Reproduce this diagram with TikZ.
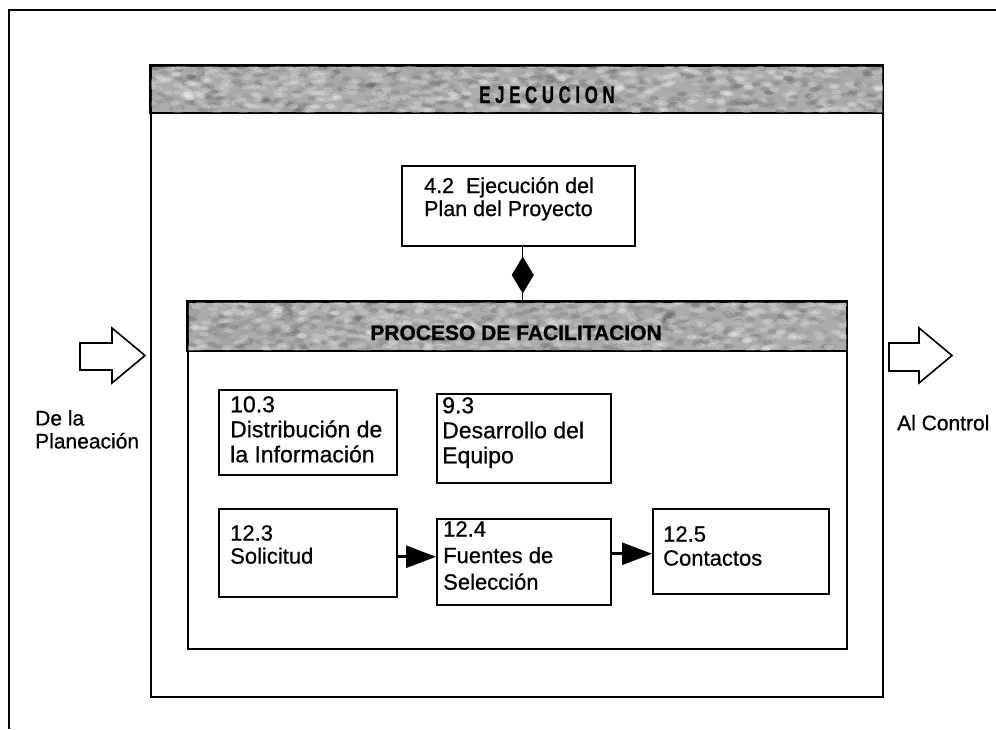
\documentclass[tikz,border=0pt]{standalone}
\usepackage{fontspec}
\usepackage{graphicx}
\setmainfont{Liberation Sans}
\newfontfamily\bodyfont{Liberation Sans}[FakeBold=0.7]
\newfontfamily\headfont{Liberation Sans Bold}[FakeBold=1.2]
\usetikzlibrary{arrows.meta,calc}
\definecolor{bandgray}{RGB}{172,172,172}
\begin{document}
\begin{tikzpicture}[x=1pt,y=-1pt,
  rule/.style={line width=1.6pt},
  stagebox/.style={draw, line width=1.6pt, anchor=north west, inner sep=0pt},
  band/.style={draw, line width=1.6pt, fill=bandgray, anchor=north west, inner sep=0pt},
  procbox/.style={draw, line width=1.5pt, anchor=north west, inner sep=0pt},
  % text blocks: the top of each block lies 18pt above its first baseline
  body/.style={anchor=north west, inner sep=0pt, align=left,
    execute at begin node={\rule{0pt}{18pt}}},
  txtA/.style={body, font=\bodyfont\fontsize{23}{25}\selectfont},
  txtB/.style={body, font=\bodyfont\fontsize{22}{24}\selectfont},
  bandtitle/.style={anchor=base, inner sep=0pt, font=\headfont\fontsize{21}{21}\selectfont},
  flow/.style={line width=2.8pt, -{Triangle[length=30pt,width=22pt]}},
  bigarrow/.style={draw, line width=1.6pt, line join=miter, fill=white}
]
\useasboundingbox (0,0) rectangle (996,729);

% page frame, open at the right and bottom
\draw[rule] (9,729) -- (9,10) -- (996,10);

% ---- execution stage ----
\node[stagebox, minimum width=732, minimum height=631] (ejec) at (150,65) {};
\node[band, minimum width=732, minimum height=47] (ejecband) at (150,65) {};
\begin{scope}
  \clip (ejecband.north west) rectangle (ejecband.south east);
  \pgfmathsetseed{42}
  \foreach \k in {1,...,700}{
    \pgfmathsetmacro{\sx}{rnd*740}
    \pgfmathsetmacro{\sy}{rnd*47}
    \pgfmathtruncatemacro{\sg}{35+40*rnd}
    \fill[black!\sg, opacity=0.22] ($(ejecband.north west)+(\sx,\sy)$) circle[x radius=5pt, y radius=2.5pt];
  }
  \foreach \k in {1,...,500}{
    \pgfmathsetmacro{\sx}{rnd*740}
    \pgfmathsetmacro{\sy}{rnd*47}
    \fill[white, opacity=0.2] ($(ejecband.north west)+(\sx,\sy)$) circle[x radius=5pt, y radius=2.5pt];
  }
\end{scope}
\draw[line width=1.6pt] (ejecband.north west) rectangle (ejecband.south east);
\node[bandtitle, font=\headfont\fontsize{24}{24}\selectfont] (ejectitle) at (547,103) {\scalebox{0.7}[1]{E J E C U C I O N}};

% project plan execution
\node[procbox, minimum width=233, minimum height=80] (b42) at (401,165) {};
\node[body, font=\bodyfont\fontsize{21.5}{23}\selectfont] (t42) at (424,177) {4.2\ \ Ejecución del\\Plan del Proyecto};

% ---- facilitating processes ----
\node[stagebox, minimum width=659, minimum height=347] (proc) at (187,301) {};
\node[band, minimum width=659, minimum height=49] (procband) at (187,301) {};
\begin{scope}
  \clip (procband.north west) rectangle (procband.south east);
  \pgfmathsetseed{7}
  \foreach \k in {1,...,640}{
    \pgfmathsetmacro{\sx}{rnd*665}
    \pgfmathsetmacro{\sy}{rnd*49}
    \pgfmathtruncatemacro{\sg}{35+40*rnd}
    \fill[black!\sg, opacity=0.22] ($(procband.north west)+(\sx,\sy)$) circle[x radius=5pt, y radius=2.5pt];
  }
  \foreach \k in {1,...,460}{
    \pgfmathsetmacro{\sx}{rnd*665}
    \pgfmathsetmacro{\sy}{rnd*49}
    \fill[white, opacity=0.2] ($(procband.north west)+(\sx,\sy)$) circle[x radius=5pt, y radius=2.5pt];
  }
\end{scope}
\draw[line width=1.6pt] (procband.north west) rectangle (procband.south east);
\node[bandtitle] (proctitle) at (516,340) {PROCESO DE FACILITACION};

% two-way link between plan execution and facilitating processes
\coordinate (dtop) at ($(b42.south)+(4.5,0)$);
\draw[line width=1.4pt] (dtop) -- (dtop |- procband.north);
\fill ($(dtop)+(0,10)$) -- ++(11,18.5) -- ++(-11,18.5) -- ++(-11,-18.5) -- cycle;

% process boxes
\node[procbox, minimum width=178, minimum height=85] (b103) at (218,389) {};
\node[txtA] (t103) at (230,396) {10.3\\Distribución de\\la Información};

\node[procbox, minimum width=174, minimum height=89] (b93) at (436,393) {};
\node[txtA] (t93) at (442,397) {9.3\\Desarrollo del\\Equipo};

\node[procbox, minimum width=178, minimum height=88] (b123) at (218,508) {};
\node[txtB, font=\bodyfont\fontsize{22}{23}\selectfont] (t123) at (230,525) {12.3\\Solicitud};

\node[procbox, minimum width=174, minimum height=86] (b124) at (436,518) {};
\node[txtB, font=\bodyfont\fontsize{22}{26.5}\selectfont] (t124) at (443,521) {12.4\\Fuentes de\\Selección};

\node[procbox, minimum width=176, minimum height=85] (b125) at (652,508) {};
\node[txtB] (t125) at (663,526) {12.5\\Contactos};

% sequence arrows
\coordinate (a1) at ($(b123.east)+(0,4)$);
\draw[flow] (a1) -- (a1 -| b124.west);
\coordinate (a2) at ($(b125.west)+(0,2.5)$);
\draw[flow] (a2 -| b124.east) -- (a2);

% input and output block arrows
\draw[bigarrow] (80,343) -- (112,343) -- (112,328) -- (145,355.5) -- (112,383) -- (112,370) -- (80,370) -- cycle;
\draw[bigarrow] (889,343) -- (919,343) -- (919,328) -- (952,355.5) -- (919,383) -- (919,371) -- (889,371) -- cycle;

\node[body, font=\bodyfont\fontsize{21}{23}\selectfont] (fromplan) at (35,410) {De la\\Planeación};
\node[body, font=\bodyfont\fontsize{21}{24}\selectfont] (tocontrol) at (897,412) {Al Control};
\end{tikzpicture}
\end{document}
